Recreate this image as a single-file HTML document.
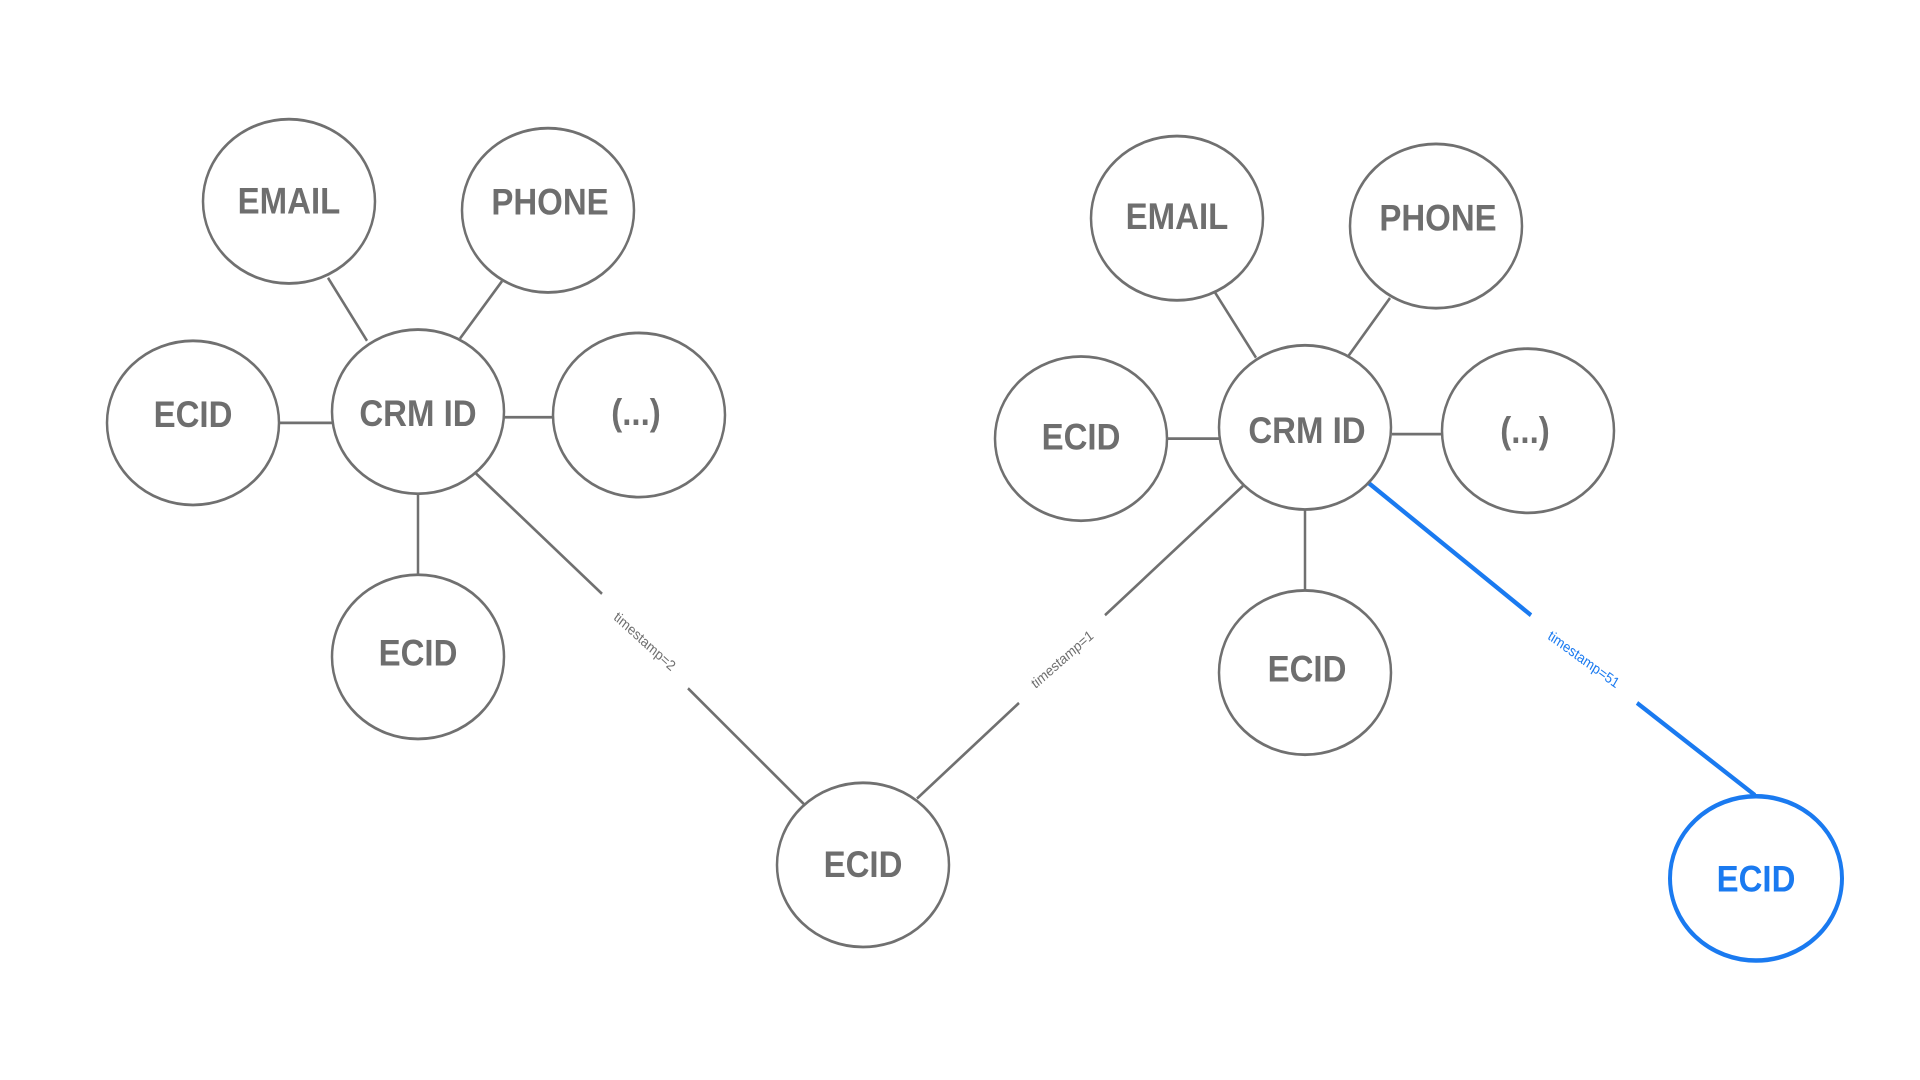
<!DOCTYPE html>
<html><head><meta charset="utf-8"><style>
html,body{margin:0;padding:0;background:#fff}
svg{display:block}
.n{fill:#fff;stroke:#707070;stroke-width:2.5}
.t{font-family:"Liberation Sans",sans-serif;font-weight:bold;font-size:33px;fill:#6e6e6e;text-anchor:middle;dominant-baseline:central}
.l{stroke:#707070;stroke-width:2.5}
.s{font-family:"Liberation Sans",sans-serif;font-size:13px;fill:#6e6e6e;text-anchor:middle;dominant-baseline:central}
</style></head><body>
<svg width="1920" height="1080" viewBox="0 0 1920 1080">
<g transform="scale(1,1.1247)">
<g>
<line class="l" x1="328" y1="247" x2="367" y2="303"/>
<line class="l" x1="502" y1="250" x2="460" y2="301"/>
<line class="l" x1="279" y1="376" x2="332" y2="376"/>
<line class="l" x1="503" y1="371" x2="554" y2="371"/>
<line class="l" x1="418" y1="439" x2="418" y2="510"/>
<line class="l" x1="476" y1="421" x2="602" y2="528"/>
<line class="l" x1="688" y1="612" x2="804" y2="715"/>
<text class="s" transform="translate(645,570) rotate(39)">timestamp=2</text>

<line class="l" x1="1215" y1="260" x2="1256" y2="318"/>
<line class="l" x1="1390" y1="265" x2="1348" y2="317"/>
<line class="l" x1="1167" y1="390" x2="1220" y2="390"/>
<line class="l" x1="1392" y1="386" x2="1442" y2="386"/>
<line class="l" x1="1305" y1="453" x2="1305" y2="525"/>
<line class="l" x1="917" y1="710" x2="1019" y2="625"/>
<line class="l" x1="1105" y1="547" x2="1243" y2="432"/>
<text class="s" transform="translate(1062,586) rotate(-38)">timestamp=1</text>

<line x1="1368" y1="429" x2="1531" y2="547" stroke="#1a7af0" stroke-width="4"/>
<line x1="1637" y1="625" x2="1755" y2="707" stroke="#1a7af0" stroke-width="4"/>
<text class="s" style="fill:#1a7af0" transform="translate(1584,586) rotate(33)">timestamp=51</text>
</g>
<g>
<ellipse class="n" cx="289" cy="179" rx="86" ry="73"/><text class="t" x="289" y="179">EMAIL</text>
<ellipse class="n" cx="548" cy="187" rx="86" ry="73"/><text class="t" x="550" y="180">PHONE</text>
<ellipse class="n" cx="193" cy="376" rx="86" ry="73"/><text class="t" x="193" y="369">ECID</text>
<ellipse class="n" cx="418" cy="366" rx="86" ry="73"/><text class="t" x="418" y="368">CRM ID</text>
<ellipse class="n" cx="639" cy="369" rx="86" ry="73"/><text class="t" x="636" y="367">(...)</text>
<ellipse class="n" cx="418" cy="584" rx="86" ry="73"/><text class="t" x="418" y="581">ECID</text>
<ellipse class="n" cx="863" cy="769" rx="86" ry="73"/><text class="t" x="863" y="769">ECID</text>

<ellipse class="n" cx="1177" cy="194" rx="86" ry="73"/><text class="t" x="1177" y="193">EMAIL</text>
<ellipse class="n" cx="1436" cy="201" rx="86" ry="73"/><text class="t" x="1438" y="194">PHONE</text>
<ellipse class="n" cx="1081" cy="390" rx="86" ry="73"/><text class="t" x="1081" y="389">ECID</text>
<ellipse class="n" cx="1305" cy="380" rx="86" ry="73"/><text class="t" x="1307" y="383">CRM ID</text>
<ellipse class="n" cx="1528" cy="383" rx="86" ry="73"/><text class="t" x="1525" y="383">(...)</text>
<ellipse class="n" cx="1305" cy="598" rx="86" ry="73"/><text class="t" x="1307" y="595">ECID</text>
<ellipse cx="1756" cy="781" rx="86" ry="73" fill="#fff" stroke="#1a7af0" stroke-width="4"/><text class="t" style="fill:#1a7af0" x="1756" y="782">ECID</text>
</g>
</g>
</svg>
</body></html>
